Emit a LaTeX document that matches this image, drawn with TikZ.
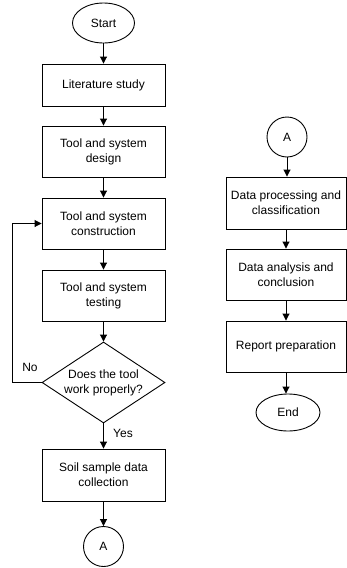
\documentclass[tikz,border=0pt]{standalone}
\usepackage{fontspec}
\setmainfont{Liberation Sans}
\usetikzlibrary{arrows.meta,shapes.geometric}

\begin{document}
\begin{tikzpicture}[x=1pt,y=-1pt,
        proc/.style={draw, line width=0.9pt, minimum width=123pt, minimum height=51pt, align=center,
                    font=\fontsize{12}{15}\selectfont},
    term/.style={draw, ellipse, line width=0.9pt, minimum width=62pt, minimum height=40pt, font=\fontsize{12}{15}\selectfont},
    conn/.style={draw, circle, line width=0.9pt, minimum size=40pt, inner sep=0pt, font=\fontsize{12}{15}\selectfont},
    decide/.style={draw, diamond, aspect=1.52, inner sep=0pt, line width=0.9pt, minimum width=123pt, minimum height=81pt,
                    align=center, font=\fontsize{12}{15}\selectfont},
    lbl/.style={font=\fontsize{12}{15}\selectfont, inner sep=1pt},
        arr/.style={-{Triangle[length=7pt,width=7pt]}, line width=0.9pt}
]
    \useasboundingbox (0,0) rectangle (347,568);
    \node[term] (start) at (103.5,23) {Start};
    \node[proc, minimum height=42pt] (lit) at (103.5,85) {Literature study};
    \node[proc] (design) at (103.5,151.5) {Tool and system\\design};
    \node[proc] (build) at (103.5,223.5) {Tool and system\\construction};
    \node[proc] (test) at (103.5,295.5) {Tool and system\\testing};
    \node[decide] (check) at (103.5,382.5) {Does the tool\\work properly?};
    \node[proc, minimum height=52pt] (soil) at (103.5,475) {Soil sample data\\collection};
    \node[conn] (outA) at (103.5,546.5) {A};
    \coordinate (loop) at (12,382.5);
    \node[lbl] (no) at (30,367) {No};
    \node[lbl] (yes) at (123,433) {Yes};

    \node[conn] (inA) at (287,137) {A};
    \node[proc, minimum width=120pt, minimum height=52pt] (prep) at (286,203) {Data processing and\\classification};
    \node[proc, minimum width=120pt] (anal) at (286,274.5) {Data analysis and\\conclusion};
    \node[proc, minimum width=120pt] (rep) at (286,346.5) {Report preparation};
    \node[term, minimum width=64pt, minimum height=37pt] (end) at (288,412.5) {End};

    \draw[arr] (start.south) -- (lit.north);
    \draw[arr] (lit.south) -- (design.north);
    \draw[arr] (design.south) -- (build.north);
    \draw[arr] (build.south) -- (test.north);
    \draw[arr] (test.south) -- (check.north);
    \draw[arr] (check.south) -- (soil.north);
    \draw[arr] (soil.south) -- (outA.north);
    \draw[arr] (check.west) -- (loop) |- (build.west);

    \draw[arr] (inA.south) -- (inA.south |- prep.north);
    \draw[arr] (prep.south) -- (prep.south |- anal.north);
    \draw[arr] (anal.south) -- (anal.south |- rep.north);
    \draw[arr] (rep.south) -- (rep.south |- end.north);
\end{tikzpicture}
\end{document}
